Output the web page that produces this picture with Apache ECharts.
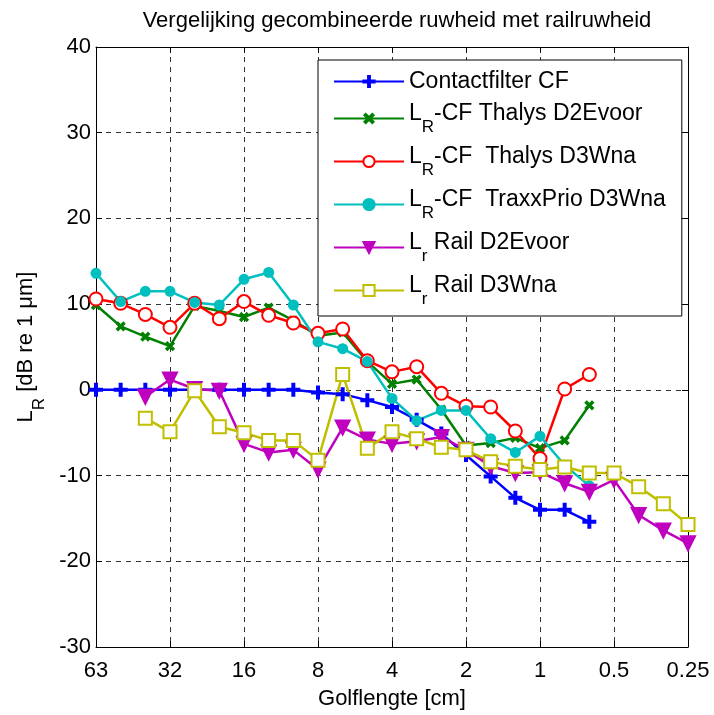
<!DOCTYPE html>
<html>
<head>
<meta charset="utf-8">
<script src="https://cdn.jsdelivr.net/npm/echarts@6/dist/echarts.min.js"></script>
<style>
  html, body { margin: 0; padding: 0; background: #fff; }
  #chart { width: 714px; height: 715px; }
</style>
</head>
<body>
<div id="chart"></div>
<script>
// third-octave wavelength bands [cm], 63 -> 0.25
const bands = ['63', '50', '40', '31.5', '25', '20', '16', '12.5', '10', '8', '6.3', '5', '4',
  '3.15', '2.5', '2', '1.6', '1.25', '1', '0.8', '0.63', '0.5', '0.4', '0.315', '0.25']
// labels shown at every third band
const tickLabels = ['63', '32', '16', '8', '4', '2', '1', '0.5', '0.25']

const contactFilter = [0, 0, 0, 0, 0, 0, 0, 0, 0, -0.3, -0.5, -1.2, -2.0, -3.5, -5.1, -7.6, -10.1, -12.6, -14.0, -14.0, -15.4]
const thalysD2Evoor = [9.9, 7.4, 6.2, 5.1, 9.8, 9.2, 8.5, 9.6, 8.1, 6.3, 6.7, 3.3, 0.7, 1.2, -2.3, -6.5, -6.2, -5.6, -6.8, -5.9, -1.8]
const thalysD3Wna = [10.6, 10.1, 8.8, 7.3, 10.1, 8.3, 10.3, 8.7, 7.8, 6.6, 7.1, 3.4, 2.1, 2.7, -0.4, -1.9, -2.0, -4.8, -8.0, 0.1, 1.8]
const traxxD3Wna = [13.6, 10.3, 11.5, 11.5, 10.2, 9.9, 12.9, 13.7, 9.9, 5.6, 4.8, 3.3, -1.0, -3.6, -2.4, -2.4, -5.7, -7.3, -5.4, -8.8, -11.2]
const railD2Evoor = [null, null, -0.8, 1.2, 0.1, -0.1, -6.3, -7.3, -7.0, -9.3, -4.4, -5.8, -6.3, -6.0, -5.5, -7.0, -8.9, -9.7, -9.6, -10.9, -11.9, -10.5, -14.6, -16.4, -17.9]
const railD3Wna = [null, null, -3.3, -4.9, -0.1, -4.3, -5.0, -5.9, -5.9, -8.2, 1.8, -6.8, -4.9, -5.7, -6.7, -7.0, -8.4, -8.9, -9.3, -9.0, -9.7, -9.7, -11.3, -13.3, -15.7]

const seriesNames = ['Contactfilter CF', 'LR-CF Thalys D2Evoor', 'LR-CF  Thalys D3Wna',
  'LR-CF  TraxxPrio D3Wna', 'Lr Rail D2Evoor', 'Lr Rail D3Wna']
// legend text with sub-scripts
const legendLabels = {
  'Contactfilter CF': '{c|Contactfilter CF}',
  'LR-CF Thalys D2Evoor': '{m|L}{sub|R}{m|-CF Thalys D2Evoor}',
  'LR-CF  Thalys D3Wna': '{m|L}{sub|R}{m|-CF  Thalys D3Wna}',
  'LR-CF  TraxxPrio D3Wna': '{m|L}{sub|R}{m|-CF  TraxxPrio D3Wna}',
  'Lr Rail D2Evoor': '{m|L}{sub|r}{m| Rail D2Evoor}',
  'Lr Rail D3Wna': '{m|L}{sub|r}{m| Rail D3Wna}',
}

const FONT = 'Liberation Sans'
const plusPath = 'path://M5,0H7V5H12V7H7V12H5V7H0V5H5Z'

const mk = (name, data, color, symbol, size, extra) => Object.assign({
  name,
  type: 'line',
  data,
  symbol,
  symbolSize: size,
  showAllSymbol: true,
  connectNulls: false,
  lineStyle: { color, width: 2.5 },
  itemStyle: { color, borderColor: color, borderWidth: 2 },
  emphasis: { disabled: true },
  animation: false,
}, extra || {})

const chart = echarts.init(document.getElementById('chart'))

const tickInt = 2
const subRich = {
  c: { fontFamily: FONT, fontSize: 23, color: '#000', padding: [6, 0, 6, 0] },
  m: { fontFamily: FONT, fontSize: 23, color: '#000', padding: [0, 0, 10, 0] },
  sub: { fontFamily: FONT, fontSize: 17, color: '#000', padding: [18, 0, 0, 0] },
}

chart.setOption({
  backgroundColor: '#fff',
  animation: false,
  title: {
    text: 'Vergelijking gecombineerde ruwheid met railruwheid',
    left: 392,
    textAlign: 'center',
    top: 5,
    textStyle: { fontFamily: FONT, fontSize: 22, fontWeight: 'normal', color: '#000' },
  },
  grid: { left: 96, right: 26, top: 47, bottom: 67 },
  legend: {
    orient: 'vertical',
    left: 318,
    top: 60,
    padding: [10, 16, 8, 15],
    itemGap: 9,
    itemWidth: 70,
    itemHeight: 14,
    backgroundColor: '#fff',
    borderColor: '#000',
    borderWidth: 1,
    borderRadius: 0,
    data: seriesNames,
    formatter: (name) => legendLabels[name],
    textStyle: {
      fontFamily: FONT,
      fontSize: 23,
      color: '#000',
      rich: subRich,
    },
  },
  xAxis: [
    {
      type: 'category',
      data: bands,
      boundaryGap: false,
      name: 'Golflengte [cm]',
      nameLocation: 'middle',
      nameGap: 41,
      nameTextStyle: { fontFamily: FONT, fontSize: 22, color: '#000' },
      axisLine: { onZero: false, lineStyle: { color: '#000', width: 1 } },
      axisTick: { inside: true, length: 6, interval: tickInt, lineStyle: { color: '#000' } },
      axisLabel: {
        interval: tickInt,
        margin: 13,
        fontFamily: FONT,
        fontSize: 22,
        color: '#000',
        formatter: (v, i) => tickLabels[Math.round(i / 3)],
      },
      splitLine: { show: true, interval: tickInt, lineStyle: { color: '#333', type: [5, 5], width: 1 } },
    },
    {
      type: 'category',
      data: bands,
      boundaryGap: false,
      position: 'top',
      axisLine: { onZero: false, lineStyle: { color: '#000', width: 1 } },
      axisTick: { inside: true, length: 6, interval: tickInt, lineStyle: { color: '#000' } },
      axisLabel: { show: false },
      splitLine: { show: false },
    },
  ],
  yAxis: [
    {
      type: 'value',
      min: -30,
      max: 40,
      interval: 10,
      name: '{m|L}{sub|R}{m| [dB re 1 μm]}',
      nameLocation: 'middle',
      nameGap: 48,
      nameTextStyle: {
        fontFamily: FONT,
        fontSize: 22,
        color: '#000',
        rich: {
          m: { fontFamily: FONT, fontSize: 22, color: '#000', padding: [0, 0, 10, 0] },
          sub: { fontFamily: FONT, fontSize: 17, color: '#000', padding: [18, 0, 0, 0] },
        },
      },
      axisLine: { show: true, onZero: false, lineStyle: { color: '#000', width: 1 } },
      axisTick: { show: true, inside: true, length: 6, lineStyle: { color: '#000' } },
      axisLabel: { margin: 5, fontFamily: FONT, fontSize: 22, color: '#000' },
      splitLine: { show: true, lineStyle: { color: '#333', type: [5, 5], width: 1 } },
    },
    {
      type: 'value',
      min: -30,
      max: 40,
      interval: 10,
      position: 'right',
      axisLine: { show: true, onZero: false, lineStyle: { color: '#000', width: 1 } },
      axisTick: { show: true, inside: true, length: 6, lineStyle: { color: '#000' } },
      axisLabel: { show: false },
      splitLine: { show: false },
    },
  ],
  series: [
    mk(seriesNames[0], contactFilter, '#0000ff', plusPath, 12),
    mk(seriesNames[1], thalysD2Evoor, '#008000', plusPath, 9, { symbolRotate: 45 }),
    mk(seriesNames[2], thalysD3Wna, '#ff0000', 'emptyCircle', 13),
    mk(seriesNames[3], traxxD3Wna, '#00bfbf', 'circle', 9),
    mk(seriesNames[4], railD2Evoor, '#bf00bf', 'triangle', 14, { symbolRotate: 180 }),
    mk(seriesNames[5], railD3Wna, '#bfbf00', 'emptyRect', 13),
  ],
})

window.addEventListener('resize', () => chart.resize())
</script>
</body>
</html>
